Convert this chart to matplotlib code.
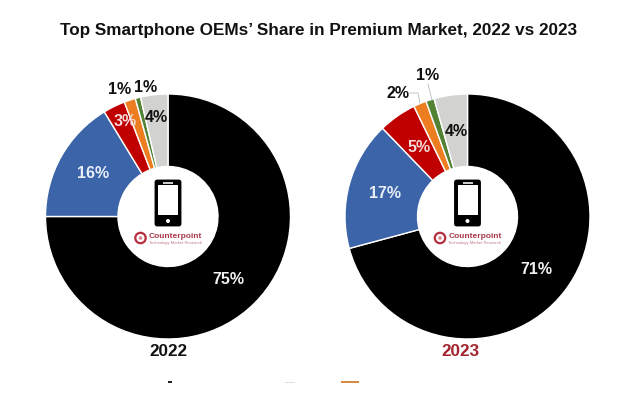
import matplotlib
matplotlib.use('Agg')
import matplotlib.pyplot as plt
import matplotlib.patches as patches

plt.rcParams['font.family'] = ['Liberation Sans', 'DejaVu Sans']

W, H = 640, 393

# share of each OEM, clockwise from 12 o'clock (slice sizes)
shares_2022 = [75.0, 16.3, 2.9, 1.5, 0.7, 3.6]
shares_2023 = [70.8, 17.0, 5.0, 1.7, 1.1, 4.4]
labels_2022 = ['75%', '16%', '3%', '1%', '1%', '4%']
labels_2023 = ['71%', '17%', '5%', '2%', '1%', '4%']

COLORS = ['#000000', '#3c64a8', '#c00000', '#ed7d21', '#548235', '#d2d2d0']
LABEL_COLORS = ['#f2f2f2', '#e8eef8', '#f5d8d8', '#111111', '#111111', '#111111']

# label centres in image pixels
POS_2022 = [(228, 279), (93, 173), (125, 121), (120, 89), (146, 87), (156, 117)]
POS_2023 = [(536, 270), (385, 194), (419, 147), (398, 94), (428, 76), (456, 132)]


def fy(y):
    # image pixels (y down) to axes coords (y up)
    return H - y


def draw_phone(ax, cx):
    body = patches.FancyBboxPatch((cx - 11, fy(224)), 22, 42,
                                  boxstyle='round,pad=0,rounding_size=0',
                                  facecolor='black', edgecolor='black', linewidth=3.5,
                                  joinstyle='round', zorder=5)
    ax.add_patch(body)
    ax.add_patch(patches.Rectangle((cx - 10, fy(215)), 20, 30, facecolor='white',
                                   edgecolor='none', zorder=6))
    ax.add_patch(patches.Rectangle((cx - 5, fy(183.5)), 10, 1.3, facecolor='#cccccc',
                                   edgecolor='none', zorder=6))
    ax.add_patch(patches.Circle((cx, fy(221)), 2, facecolor='white',
                                edgecolor='none', zorder=6))


def draw_logo(ax, cx):
    ring_x = cx - 27.5
    ax.add_patch(patches.Circle((ring_x, fy(238)), 5.2, facecolor='none',
                                edgecolor='#b5303f', linewidth=1.6, zorder=5))
    ax.add_patch(patches.Circle((ring_x, fy(238)), 1.8, facecolor='#d98a90',
                                edgecolor='none', zorder=5))
    ax.text(cx - 19, fy(236.5), 'Counterpoint', fontsize=6.0, fontweight='bold',
            color='#a8384a', ha='left', va='center', zorder=5)
    ax.text(cx - 19, fy(243), 'Technology Market Research', fontsize=3.0,
            color='#c07a85', ha='left', va='center', zorder=5)


def draw_donut(ax, cx, shares, labels, pos):
    ax.pie(shares, colors=COLORS, startangle=90, counterclock=False,
           center=(cx, fy(216.5)), radius=122.5,
           wedgeprops={'width': 72.5, 'edgecolor': 'white', 'linewidth': 1.0})
    for txt, (x, y), col in zip(labels, pos, LABEL_COLORS):
        ax.text(x, fy(y), txt, fontsize=11.5, fontweight='bold', color=col,
                ha='center', va='center', zorder=7)
    draw_phone(ax, cx)
    draw_logo(ax, cx)


fig = plt.figure(figsize=(W / 100, H / 100), dpi=100)
ax = fig.add_axes([0, 0, 1, 1])

draw_donut(ax, 168, shares_2022, labels_2022, POS_2022)
draw_donut(ax, 467.5, shares_2023, labels_2023, POS_2023)

# leader lines on the 2023 small slices
ax.plot([410, 418, 420], [fy(93), fy(93), fy(103)], color='#bbbbbb', lw=0.6, zorder=4)
ax.plot([428, 432], [fy(84), fy(100)], color='#bbbbbb', lw=0.6, zorder=4)

ax.text(318.5, fy(31), 'Top Smartphone OEMs\u2019 Share in Premium Market, 2022 vs 2023',
        fontsize=12.3, fontweight='bold', color='#111111', ha='center', va='center')
ax.text(168.5, fy(352), '2022', fontsize=12.3, fontweight='bold', color='#111111',
        ha='center', va='center')
ax.text(460.5, fy(352), '2023', fontsize=12.3, fontweight='bold', color='#a3232e',
        ha='center', va='center')

# cut-off remains of the legend along the bottom edge
ax.add_patch(patches.Rectangle((168, fy(383)), 4, 2, facecolor='#222222', edgecolor='none'))
ax.add_patch(patches.Rectangle((285, fy(383)), 10, 1.5, facecolor='#dddddd', edgecolor='none'))
ax.add_patch(patches.Rectangle((341, fy(383)), 18, 2, facecolor='#d98a45', edgecolor='none'))

ax.set_xlim(0, W)
ax.set_ylim(0, H)
ax.set_aspect('equal')
ax.axis('off')

plt.savefig('out.png', dpi=100)
plt.close()
